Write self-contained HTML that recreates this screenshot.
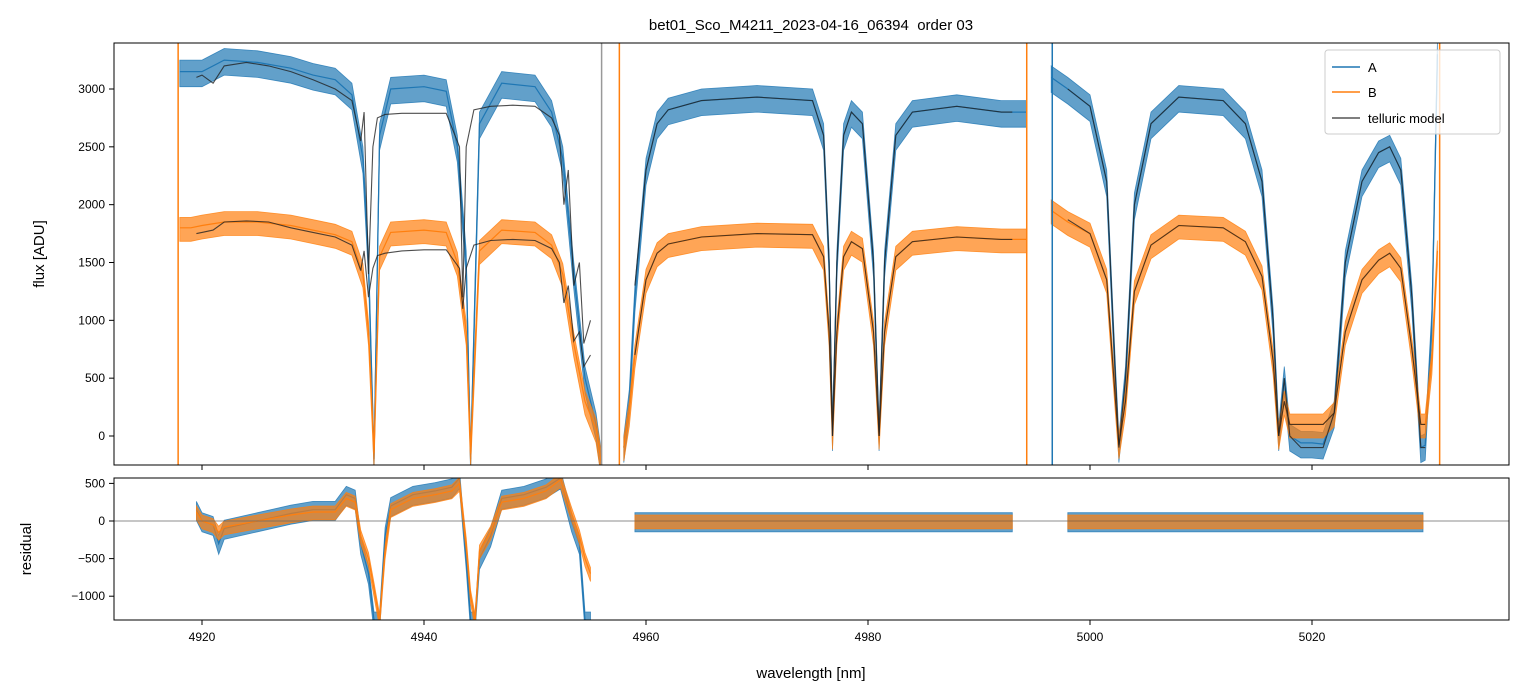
<!DOCTYPE html>
<html><head><meta charset="utf-8">
<style>
body{margin:0;background:#fff;}
svg{display:block;font-family:"Liberation Sans","DejaVu Sans",sans-serif;}
</style></head>
<body>
<svg id="chart" width="1523" height="696" viewBox="0 0 1523 696">
<text x="811" y="30" text-anchor="middle" font-size="15" style="white-space:pre">bet01_Sco_M4211_2023-04-16_06394  order 03</text>
<defs>
<clipPath id="cTop"><rect x="114" y="43" width="1395" height="422"/></clipPath>
<clipPath id="cBot"><rect x="114" y="478" width="1395" height="142"/></clipPath>
</defs>
<g id="topPanel" clip-path="url(#cTop)"></g>
<g id="botPanel" clip-path="url(#cBot)"></g>
<rect x="114" y="43" width="1395" height="422" fill="none" stroke="#000" stroke-width="1"/>
<rect x="114" y="478" width="1395" height="142" fill="none" stroke="#000" stroke-width="1"/>
<g id="axes"></g>
<text x="44" y="254" transform="rotate(-90 44 254)" text-anchor="middle" font-size="15">flux [ADU]</text>
<text x="31" y="549" transform="rotate(-90 31 549)" text-anchor="middle" font-size="15">residual</text>
<text x="811" y="678" text-anchor="middle" font-size="15">wavelength [nm]</text>
<g>
<rect x="1325" y="50" width="175" height="84" rx="3" fill="#fff" fill-opacity="0.8" stroke="#ccc"/>
<line x1="1332" y1="67" x2="1360" y2="67" stroke="#1f77b4" stroke-width="1.5"/>
<text x="1368" y="72" font-size="13">A</text>
<line x1="1332" y1="92" x2="1360" y2="92" stroke="#ff7f0e" stroke-width="1.5"/>
<text x="1368" y="97" font-size="13">B</text>
<line x1="1332" y1="118" x2="1360" y2="118" stroke="#555" stroke-width="1.5"/>
<text x="1368" y="123" font-size="13">telluric model</text>
</g>
</svg>
<script>
// ---- data ----
var xTicks=[4920,4940,4960,4980,5000,5020];
var yTicksTop=[0,500,1000,1500,2000,2500,3000];
var yTicksBot=[-1000,-500,0,500];
var aWl=[4918.0,4919,4920,4922,4925,4928,4930,4932,4933.5,4934.5,4935,4935.5,4936,4937,4940,4942,4943,4943.8,4944.2,4945,4947,4950,4951.5,4952.5,4953.5,4954.5,4955.5,4956,NaN,4958,4958.5,4959,4960,4961,4962,4965,4970,4975,4976,4976.5,4976.8,4977.2,4977.8,4978.5,4979.5,4980.5,4981,4981.5,4982.5,4984,4988,4992,4994.3,NaN,4996.5,4998,5000,5001.5,5002.3,5002.6,5003.2,5004,5005.5,5008,5012,5014,5015.5,5016.5,5017,5017.5,5018,5019,5020,5021,5022,5023,5024.5,5026,5027,5028,5029,5029.8,5030.2,5030.8,5031.3];
var aVal=[3150,3150,3150,3250,3230,3180,3120,3080,2950,2400,1500,-200,2600,3000,3020,2980,2500,1500,-200,2700,3050,3020,2800,2400,1400,500,100,-250,NaN,-100,300,1200,2300,2700,2820,2900,2930,2900,2600,1500,0,1500,2600,2800,2700,1500,0,1500,2600,2800,2850,2800,2800,NaN,3100,3000,2850,2200,500,-100,500,2000,2700,2930,2900,2700,2200,1000,0,500,0,-60,-60,-70,200,1500,2200,2450,2500,2300,1200,-100,-80,1000,3300];
var bWl=aWl;
var bVal=[1800,1800,1820,1850,1850,1820,1780,1740,1680,1400,900,-150,1550,1760,1780,1760,1500,900,-150,1600,1780,1760,1650,1400,800,300,60,-250,NaN,-100,200,700,1350,1580,1660,1720,1750,1740,1550,900,0,900,1550,1680,1620,900,0,900,1550,1680,1720,1700,1700,NaN,1950,1850,1750,1350,300,-80,300,1250,1650,1820,1800,1680,1380,650,0,300,100,100,100,100,200,900,1350,1520,1580,1450,750,100,100,650,1600];
var mWl=[4919.5,4920,4921,4922,4924,4926,4928,4930,4932,4933.5,4934.3,4934.6,4935,4935.4,4935.8,4936.5,4938,4940,4942,4943.2,4943.5,4943.8,4944.5,4946,4948,4950,4951.5,4952.2,4952.6,4953,4953.5,4954,4954.4,4955,NaN,4959,4960,4961,4962,4965,4970,4975,4976,4976.5,4976.8,4977.2,4977.8,4978.5,4979.5,4980.5,4981,4981.5,4982.5,4984,4988,4992,4993,NaN,4998,5000,5001.5,5002.3,5002.6,5003.2,5004,5005.5,5008,5012,5014,5015.5,5016.5,5017,5017.5,5018,5019,5020,5021,5022,5023,5024.5,5026,5027,5028,5029,5029.8,5030.2];
var mAVal=[3100,3120,3050,3200,3230,3200,3150,3080,3000,2900,2550,2800,1400,2500,2750,2780,2790,2790,2790,2500,1200,2500,2820,2850,2860,2850,2750,2600,2000,2300,1300,1500,800,1000,NaN,1300,2300,2700,2820,2900,2930,2900,2600,1500,0,1500,2600,2800,2700,1500,0,1500,2600,2800,2850,2800,2800,NaN,3000,2850,2200,500,-100,500,2000,2700,2930,2900,2700,2200,1000,0,500,0,-100,-100,-100,200,1500,2200,2450,2500,2300,1200,-100,-100];
var mBVal=[1750,1760,1780,1850,1860,1850,1800,1760,1720,1650,1430,1600,1200,1450,1560,1580,1600,1610,1610,1450,1100,1450,1650,1690,1700,1690,1620,1500,1150,1300,820,900,600,700,NaN,700,1350,1580,1660,1720,1750,1740,1550,900,0,900,1550,1680,1620,900,0,900,1550,1680,1720,1700,1700,NaN,1870,1750,1350,300,-80,300,1250,1650,1820,1800,1680,1380,650,0,300,100,100,100,100,200,900,1350,1520,1580,1450,750,100,100];
var rWl=[4919.5,4920,4921,4921.5,4922,4925,4928,4930,4932,4933,4933.8,4934.3,4935,4935.5,4936,4936.5,4937,4939,4941,4942.5,4943.2,4943.8,4944.2,4944.6,4945,4946,4947,4949,4951,4952.3,4953.3,4954,4954.5,4955,NaN,4959,4965,4970,4975,4980,4985,4990,4993,NaN,4998,5005,5010,5015,5020,5025,5030];
var rAVal=[150,0,-50,-300,-100,0,100,150,150,350,300,-300,-700,-1320,-1320,-200,200,350,400,450,570,-500,-1320,-1320,-500,-200,300,350,450,570,0,-300,-1320,-1320,NaN,0,0,0,0,0,0,0,0,NaN,0,0,0,0,0,0,0];
var rBVal=[120,0,-50,-150,-80,0,80,120,120,300,250,-200,-500,-900,-1320,-400,150,300,350,400,500,-300,-1000,-1320,-400,-150,250,300,400,550,100,-200,-500,-700,NaN,0,0,0,0,0,0,0,0,NaN,0,0,0,0,0,0,0];
var spikeWl=[4917.85,4956.0,4957.6,4994.3,4996.6,5031.5];
var spikeSeries=['B','M','B','B','A','B'];
// ---- scales ----
function X(w){return 202+(w-4920)*11.1;}
function YT(v){return 436-v*0.11567;}
function YB(v){return 521-v*0.0752;}
var NS='http://www.w3.org/2000/svg';
function mk(tag,attrs,parent){var e=document.createElementNS(NS,tag);for(var k in attrs)e.setAttribute(k,attrs[k]);parent.appendChild(e);return e;}
function segments(wl,val){var segs=[],cur=[];for(var i=0;i<wl.length;i++){if(isNaN(wl[i])||val[i]===undefined||isNaN(val[i])){if(cur.length)segs.push(cur);cur=[];continue;}cur.push([wl[i],val[i]]);}if(cur.length)segs.push(cur);return segs;}
function pathD(wl,val,Y){return segments(wl,val).map(function(s){return s.map(function(p,i){return (i?'L':'M')+X(p[0]).toFixed(1)+','+Y(p[1]).toFixed(1);}).join('');}).join('');}
function bandD(wl,val,Y,amp){return segments(wl,val).map(function(s){
 var up=s.map(function(p,i){return (i?'L':'M')+X(p[0]).toFixed(1)+','+Y(p[1]+amp).toFixed(1);}).join('');
 var dn=s.slice().reverse().map(function(p){return 'L'+X(p[0]).toFixed(1)+','+Y(p[1]-amp*1.3).toFixed(1);}).join('');
 return up+dn+'Z';}).join('');}
var gTop=document.getElementById('topPanel'),gBot=document.getElementById('botPanel'),gAx=document.getElementById('axes');
var cA='#1f77b4',cB='#ff7f0e';
function band(g,wl,val,Y,col,amp,name){
 var b=mk('path',{d:bandD(wl,val,Y,amp),fill:col,'fill-opacity':0.7,stroke:col,'stroke-width':0.8,'stroke-opacity':0.8},g);
 
 
 var l=mk('path',{d:pathD(wl,val,Y),fill:'none',stroke:col,'stroke-width':1.2},g);
 
 
}
band(gTop,aWl,aVal,YT,cA,100,'series-a');
band(gTop,bWl,bVal,YT,cB,90,'series-b');
spikeWl.forEach(function(w,i){var col=spikeSeries[i]==='A'?cA:spikeSeries[i]==='B'?cB:'#999';
 var s=mk('line',{x1:X(w),x2:X(w),y1:43,y2:465,stroke:col,'stroke-width':1.5},gTop);
 
 });
[[mAVal,'model-a'],[mBVal,'model-b']].forEach(function(p0){
 var p=mk('path',{d:pathD(mWl,p0[0],YT),fill:'none',stroke:'#222','stroke-width':1.1,'stroke-opacity':0.8},gTop);
 
 });
band(gBot,rWl,rAVal,YB,cA,110,'residual-a');
band(gBot,rWl,rBVal,YB,cB,80,'residual-b');
var z=mk('line',{x1:114,x2:1509,y1:YB(0),y2:YB(0),stroke:'#666','stroke-width':0.7},gBot);


xTicks.forEach(function(t){
 mk('line',{x1:X(t),x2:X(t),y1:465,y2:470,stroke:'#000'},gAx);
 mk('line',{x1:X(t),x2:X(t),y1:620,y2:625,stroke:'#000'},gAx);
 var tx=mk('text',{x:X(t),y:641,'text-anchor':'middle','font-size':12},gAx);tx.textContent=t;
 
 });
yTicksTop.forEach(function(t){
 mk('line',{x1:109,x2:114,y1:YT(t),y2:YT(t),stroke:'#000'},gAx);
 var tx=mk('text',{x:105,y:YT(t)+4,'text-anchor':'end','font-size':12},gAx);tx.textContent=t;
 
 });
yTicksBot.forEach(function(t){
 mk('line',{x1:109,x2:114,y1:YB(t),y2:YB(t),stroke:'#000'},gAx);
 var tx=mk('text',{x:105,y:YB(t)+4,'text-anchor':'end','font-size':12},gAx);tx.textContent=t<0?'\u2212'+(-t):t;
 
 });
</script>
</body></html>
